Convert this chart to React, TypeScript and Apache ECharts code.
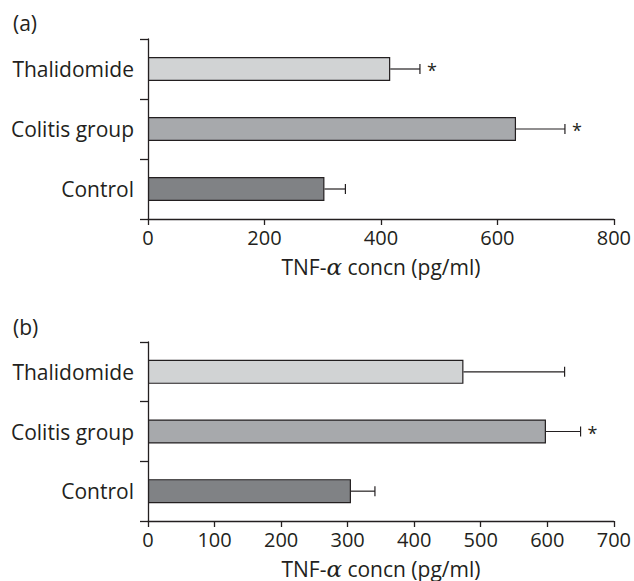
import React, { useEffect, useRef } from "react";
import * as echarts from "echarts";

const categories = ["Control", "Colitis group", "Thalidomide"];
const barColors = ["#808285", "#a7a9ac", "#d1d3d4"];

const valuesA = [303, 632, 416];
const errorsA = [36, 84, 51];
const sigA = [false, true, true];

const valuesB = [305, 598, 474];
const errorsB = [36, 52, 152];
const sigB = [false, true, false];

const ticksA = { max: 800, interval: 200 };
const ticksB = { max: 700, interval: 100 };

const panelLabels = ["(a)", "(b)"];
const axisName = "TNF-{a|α} concn (pg/ml)";

const INK = "#231f20";
const FONT = "Open Sans";

function makeErrorSeries(values: number[], errors: number[], sig: boolean[], idx: number) {
  return {
    type: "custom",
    xAxisIndex: idx,
    yAxisIndex: idx,
    silent: true,
    data: values.map((v, i) => [v, i, errors[i], sig[i] ? 1 : 0]),
    encode: { x: 0, y: 1 },
    renderItem: (params: any, api: any) => {
      const v = api.value(0);
      const c = api.value(1);
      const e = api.value(2);
      const s = api.value(3);
      const p0 = api.coord([v, c]);
      const p1 = api.coord([v + e, c]);
      const children: any[] = [
        {
          type: "line",
          shape: { x1: p0[0], y1: p0[1], x2: p1[0], y2: p1[1] },
          style: { stroke: INK, lineWidth: 1.2 },
        },
        {
          type: "line",
          shape: { x1: p1[0], y1: p1[1] - 5, x2: p1[0], y2: p1[1] + 5 },
          style: { stroke: INK, lineWidth: 1.2 },
        },
      ];
      if (s) {
        children.push({
          type: "text",
          x: p1[0] + 12,
          y: p1[1] + 1,
          style: {
            text: "*",
            fontSize: 18,
            fontFamily: FONT,
            fill: INK,
            align: "center",
            verticalAlign: "middle",
          },
        });
      }
      return { type: "group", children };
    },
    z: 3,
  };
}

export default function App() {
  const ref = useRef<HTMLDivElement>(null);
  useEffect(() => {
    if (!ref.current) return;
    const chart = echarts.init(ref.current, null, { renderer: "svg" });
    const grids = [
      { left: 148, top: 39, width: 467, height: 180 },
      { left: 148, top: 342, width: 467, height: 180 },
    ];
    const ticks = [ticksA, ticksB];
    const xAxes = ticks.map((t, i) => ({
      type: "value",
      gridIndex: i,
      min: 0,
      max: t.max,
      interval: t.interval,
      name: axisName,
      nameLocation: "middle",
      nameGap: 36,
      nameTextStyle: {
        fontSize: 21,
        fontFamily: FONT,
        color: INK,
        rich: {
          a: {
            fontSize: 23,
            fontFamily: "DejaVu Serif",
            fontStyle: "italic",
            color: INK,
          },
        },
      },
      axisLine: { show: true, lineStyle: { color: INK, width: 1.3 } },
      axisTick: { show: true, length: 6, lineStyle: { color: INK, width: 1.3 } },
      axisLabel: { fontSize: 20, fontFamily: FONT, color: INK, margin: 8 },
      splitLine: { show: false },
    }));
    const yAxes = [0, 1].map((i) => ({
      type: "category",
      gridIndex: i,
      data: categories,
      axisLine: { show: true, lineStyle: { color: INK, width: 1.3 } },
      axisTick: { show: true, length: 8, lineStyle: { color: INK, width: 1.3 } },
      axisLabel: { fontSize: 21, fontFamily: FONT, color: INK, margin: 14 },
    }));
    const barSeries = [valuesA, valuesB].map((vals, i) => ({
      type: "bar",
      xAxisIndex: i,
      yAxisIndex: i,
      barWidth: 24,
      data: vals.map((v, j) => ({
        value: v,
        itemStyle: { color: barColors[j], borderColor: INK, borderWidth: 1.2 },
      })),
      z: 2,
    }));
    chart.setOption({
      animation: false,
      backgroundColor: "#ffffff",
      title: [
        {
          text: panelLabels[0],
          left: 8,
          top: 7,
          textStyle: { fontSize: 21, fontWeight: "normal", fontFamily: FONT, color: INK },
        },
        {
          text: panelLabels[1],
          left: 8,
          top: 311,
          textStyle: { fontSize: 21, fontWeight: "normal", fontFamily: FONT, color: INK },
        },
      ],
      grid: grids,
      xAxis: xAxes,
      yAxis: yAxes,
      series: [
        ...barSeries,
        makeErrorSeries(valuesA, errorsA, sigA, 0),
        makeErrorSeries(valuesB, errorsB, sigB, 1),
      ],
    });
    return () => chart.dispose();
  }, []);
  return (
    <div
      ref={ref}
      style={{ position: "fixed", left: 0, top: 0, width: 634, height: 581, background: "#fff" }}
    />
  );
}
